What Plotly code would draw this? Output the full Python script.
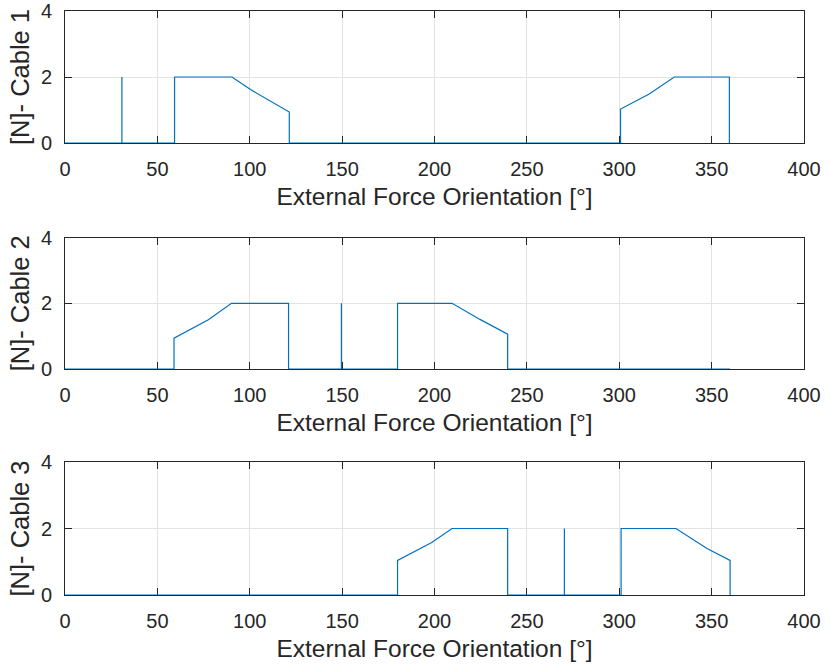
import plotly.graph_objects as go

# Data
angle_c1 = [0, 30.8, 30.8, 30.8, 59.3, 59.3, 90.4, 100.4, 121.4, 121.4, 300.7, 300.7, 316.0, 329.8, 359.6, 359.6, 360]
force_c1 = [0, 0, 2, 0, 0, 2, 2, 1.62, 0.94, 0, 0, 1.03, 1.48, 2, 2, 0, 0]

angle_c2 = [0, 59.0, 59.0, 77.6, 90.1, 121.0, 121.0, 149.6, 149.6, 149.6, 180.0, 180.0, 209.5, 224.6, 239.6, 239.6, 360]
force_c2 = [0, 0, 0.94, 1.5, 2, 2, 0, 0, 2, 0, 0, 2, 2, 1.51, 1.06, 0, 0]

angle_c3 = [0, 180.0, 180.0, 198.5, 209.5, 239.6, 239.6, 270.3, 270.3, 270.3, 301.0, 301.0, 330.7, 347.5, 360.0, 360.0]
force_c3 = [0, 0, 1.04, 1.58, 2, 2, 0, 0, 2, 0, 0, 2, 2, 1.4, 1.04, 0]

y_labels = ["[N]- Cable 1", "[N]- Cable 2", "[N]- Cable 3"]
x_label = "External Force Orientation [°]"
x_ticks = [0, 50, 100, 150, 200, 250, 300, 350, 400]
y_ticks = [0, 2, 4]

series = [(angle_c1, force_c1), (angle_c2, force_c2), (angle_c3, force_c3)]

W, H = 830, 667
ml, mr, mt, mb = 65, 26, 11, 72
ph = H - mt - mb
# pixel top/bottom of each axes box
boxes = [(11, 143), (237.6, 369), (462, 595)]

FONT = "Liberation Sans, Arial, Helvetica, sans-serif"
TXT = "#262626"

fig = go.Figure()
layout = dict(
    width=W, height=H,
    margin=dict(l=ml, r=mr, t=mt, b=mb, autoexpand=False),
    paper_bgcolor="white", plot_bgcolor="white",
    showlegend=False,
    font=dict(family=FONT, color=TXT, size=20),
)

for i, ((xs, ys), ylab, (top, bot)) in enumerate(zip(series, y_labels, boxes)):
    n = "" if i == 0 else str(i + 1)
    fig.add_trace(go.Scatter(x=xs, y=ys, mode="lines",
                             line=dict(color="#0072BD", width=1.2),
                             xaxis="x" + n, yaxis="y" + n))
    d0 = 1 - (bot - mt) / ph
    d1 = 1 - (top - mt) / ph
    common = dict(showline=True, linecolor=TXT, linewidth=1, mirror="ticks",
                  ticks="inside", ticklen=7, tickcolor=TXT, tickwidth=1,
                  showgrid=True, gridcolor="#e3e3e3", gridwidth=1,
                  zeroline=False, layer="below traces", automargin=False,
                  ticklabeloverflow="allow",
                  tickfont=dict(family=FONT, size=20, color=TXT))
    layout["xaxis" + n] = dict(
        common, domain=[0, 1], anchor="y" + n, range=[0, 400],
        tickvals=x_ticks, ticktext=[str(v) for v in x_ticks],
        ticklabelstandoff=8,
        title=dict(text=x_label, font=dict(family=FONT, size=24.5, color=TXT), standoff=8),
    )
    layout["yaxis" + n] = dict(
        common, domain=[max(d0, 0), min(d1, 1)], anchor="x" + n, range=[0, 4],
        tickvals=y_ticks, ticktext=[str(v) for v in y_ticks],
        ticklabelstandoff=8,
        title=dict(text=ylab, font=dict(family=FONT, size=25.5, color=TXT), standoff=3),
    )

fig.update_layout(**layout)
fig.write_html(
    "out.html",
    config={"displayModeBar": False},
    post_script="document.body.style.margin='0';document.body.style.overflow='hidden';",
)
